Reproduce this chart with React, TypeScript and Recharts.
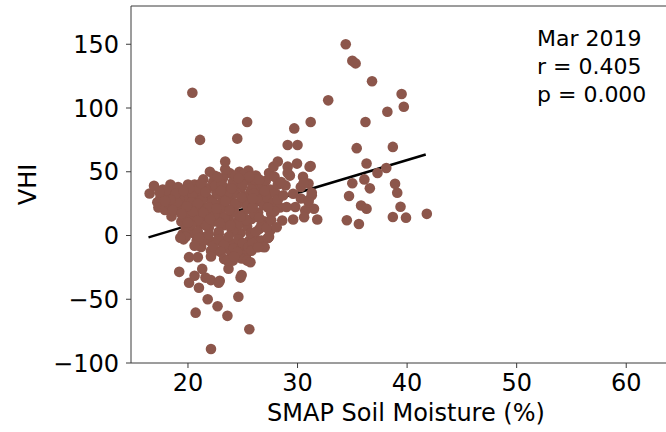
import React from 'react';
import { ScatterChart, Scatter, XAxis, YAxis, ReferenceLine } from 'recharts';

const xTicks = [20, 30, 40, 50, 60];
const yTicks = [-100, -50, 0, 50, 100, 150];

// [soil moisture %, VHI]
const coreCluster: [number, number][] = [
  [16.5, 33], [16.9, 39], [17.2, 26], [17.3, 22], [17.5, 30], [17.7, 36], [17.9, 20], [18.1, 31],
  [18.2, 25], [18.4, 40], [18.5, 15], [18.6, 35], [18.8, 28], [19.0, 20], [19.1, 38], [19.3, 32],
  [19.4, 11], [19.5, 25], [19.5, 1], [19.6, -3], [19.8, 6], [19.9, 17], [20.0, 40], [20.1, 30],
  [20.2, 23], [20.3, 13], [20.4, 36], [20.5, 2], [20.6, 40], [20.7, 27], [20.8, -4], [20.9, 19],
  [21.0, 33], [21.1, 9], [21.2, -9], [21.3, 24], [21.4, 44], [21.5, 15], [21.6, -1], [21.7, 30],
  [21.8, 37], [21.9, 6], [22.0, 50], [22.0, 20], [22.1, -12], [22.2, 28], [22.3, 42], [22.4, 11],
  [22.5, -5], [22.6, 34], [22.7, 24], [22.8, 1], [22.9, 17], [23.0, 43], [23.1, 30], [23.2, -10],
  [23.3, 8], [23.4, 22], [23.5, 37], [23.6, -3], [23.7, 14], [23.8, 49], [23.9, 28], [24.0, -14],
  [24.0, 4], [24.1, 42], [24.2, 19], [24.3, 33], [24.4, -7], [24.5, 11], [24.6, 25], [24.7, 50],
  [24.8, 2], [24.9, 38], [25.0, 16], [25.1, -11], [25.2, 29], [25.3, 44], [25.4, 7], [25.5, 51],
  [25.5, 21], [25.6, -4], [25.7, 34], [25.8, 13], [25.9, 41], [26.0, -1], [26.1, 26], [26.2, 47],
  [26.3, 37], [26.3, -9], [26.4, 18], [26.5, 5], [26.6, 31], [26.7, -4], [26.8, 40], [26.9, 24],
  [27.0, 11], [27.1, 43], [27.2, 30], [27.3, -2], [27.4, 49], [27.5, 36], [27.6, 17], [27.8, 54],
  [27.8, 26], [27.9, 46], [28.0, 33], [28.2, 40], [28.4, 22], [26.8, -9],
];

const coreFill: [number, number][] = [
  [18.0, 35], [18.9, 24], [19.2, 29], [19.7, 14], [20.1, 4], [20.4, 33], [20.7, 18], [21.0, 37],
  [21.3, 28], [21.6, 8], [21.9, -4], [22.2, 26], [22.5, 39], [22.8, 3], [23.0, 21], [23.3, 14],
  [23.6, 33], [23.9, -6], [24.2, 18], [24.5, 41], [24.8, -8], [25.1, 31], [25.4, 23], [25.7, 2],
  [26.0, 17], [26.3, 29], [22.4, -12], [23.8, -11], [25.3, -15], [21.1, -8], [24.6, 9], [22.7, 33],
  [20.9, 12], [26.1, 44], [24.1, 3], [23.2, 45], [21.8, 16], [20.3, 26], [19.0, 26], [18.6, 20],
  [25.8, 36], [26.9, 11], [27.5, 4], [24.9, -18], [23.4, 52], [24.3, 47], [25.1, 48], [23.1, 40],
  [22.4, 47],
  [19.8, -1], [20.3, 8], [20.9, 3], [21.4, -4], [21.9, 1], [22.3, -8], [22.8, -3], [23.3, -7],
  [23.7, -1], [24.2, -10], [24.6, -3], [25.0, -6], [25.5, -9], [25.9, -6], [26.2, 3], [26.7, 8],
  [27.2, 6], [27.6, 12], [27.9, 19], [28.2, 28], [27.3, 22], [26.5, 14], [25.9, 22], [25.3, 12],
  [24.8, 15], [24.3, 25], [23.8, 20], [23.4, 27], [22.9, 10], [22.4, 16], [21.9, 22], [21.4, 18],
  [20.9, 25], [20.4, 19], [19.9, 23], [19.4, 17], [18.9, 33], [18.4, 28], [17.9, 27], [17.4, 34],
  [20.0, 10], [21.0, -2], [22.0, 13], [23.0, 35], [24.0, 37], [25.0, 40], [26.0, 33], [27.0, 35],
  [26.5, 44], [25.6, 46], [24.6, 45], [22.7, 46], [21.2, 41], [20.1, 37], [19.6, 35], [23.9, 8],
  [24.9, 30], [25.9, 29], [21.6, 34], [22.6, 21], [20.6, -8], [23.0, -13], [24.5, -13], [25.8, -12],
];

const lowerTail: [number, number][] = [
  [20.1, -17], [20.9, -17], [22.1, -16.5], [19.2, -28.5], [20.1, -37], [21.0, -41], [20.6, -31.6],
  [21.3, -26.2], [21.6, -33], [22.1, -35], [22.9, -35.5], [22.8, -37], [23.3, -18.4], [24.1, -19.7],
  [23.7, -26], [24.8, -33], [24.9, -31], [25.4, -19.7], [25.7, -21], [24.6, -48], [21.8, -50],
  [22.7, -55.5], [20.7, -60.5], [23.6, -63], [25.6, -73.5], [22.1, -89], [27.3, -1.8], [27.0, -9.2],
  [19.3, -1.8], [23.6, -19.7], [24.2, -16.5], [26.4, -9.2], [27.4, -1],
];

const rightGroup: [number, number][] = [
  [29.1, 54], [29.95, 56.4], [31.1, 54], [29.3, 47], [30.5, 46], [31.0, 40.7], [30.3, 38],
  [28.9, 39.3], [31.3, 31.5], [29.6, 32.8], [30.3, 29], [28.7, 31.5], [31.5, 21], [30.7, 19.7],
  [29.8, 22.3], [31.0, 26.2], [29.0, 22.3], [28.6, 11.8], [29.6, 12.6], [30.6, 14.4], [28.1, 6.5],
  [29.1, 49], [28.5, 42], [30.55, 41], [31.0, 27.6], [31.3, 33.5], [31.2, 54.5],
];

const highOutliers: [number, number][] = [
  [34.4, 150], [35.0, 137], [35.3, 135], [36.8, 121], [39.5, 111], [39.7, 101], [38.2, 97],
  [32.8, 106], [20.4, 112], [36.2, 89], [31.2, 89], [25.4, 89], [29.7, 84], [21.1, 75], [24.5, 76],
  [35.4, 68.5], [38.7, 69.5], [29.1, 71], [30.0, 71], [23.4, 58], [28.2, 58], [36.3, 56.5],
  [38.1, 53], [37.3, 49], [35.0, 41], [36.1, 44], [36.6, 37], [38.9, 40.5], [39.1, 33.5],
  [34.7, 31], [35.8, 23.5], [36.3, 21], [39.4, 22.5], [38.7, 14.5], [39.9, 14], [41.8, 17],
  [34.5, 12], [35.6, 9], [31.8, 12.5],
];

// least squares line end points
const fitX = [16.4, 41.7];
const fitY = [-1.5, 63.5];

const points = [...coreCluster, ...coreFill, ...lowerTail, ...rightGroup, ...highOutliers].map(
  ([x, y]) => ({ x, y })
);
const fitLine = fitX.map((x, i) => ({ x, y: fitY[i] }));

const font = 'DejaVu Sans';
const axisColor = '#3a3a3a';

const fmt = (v: number) => (v < 0 ? `\u2212${Math.abs(v)}` : `${v}`);

const Dot = (props: any) => <circle cx={props.cx} cy={props.cy} r={5.3} fill="#8c564b" />;

const YLabel = (props: any) => {
  const vb = props.viewBox || { x: 0, y: 6, width: 131, height: 357 };
  const cy = vb.y + vb.height / 2;
  return (
    <text x={vb.x + 36} y={cy} transform={`rotate(-90, ${vb.x + 36}, ${cy})`} textAnchor="middle"
      fontSize={24} fontFamily={font} fill="#000">
      VHI
    </text>
  );
};

const XLabel = (props: any) => {
  const vb = props.viewBox || { x: 131, y: 363, width: 550, height: 69 };
  return (
    <text x={vb.x + vb.width / 2} y={vb.y + 58} textAnchor="middle" fontSize={24} fontFamily={font} fill="#000">
      SMAP Soil Moisture (%)
    </text>
  );
};

export default function App() {
  return (
    <div style={{ position: 'absolute', left: 0, top: 0, width: 666, height: 432, overflow: 'hidden', background: '#fff' }}>
      <ScatterChart width={700} height={432} margin={{ top: 6, right: 19, bottom: 0, left: 0 }}>
        <XAxis
          type="number"
          dataKey="x"
          domain={[14.8, 65]}
          ticks={xTicks}
          allowDataOverflow
          height={69}
          tickSize={5}
          tickMargin={6}
          stroke={axisColor}
          tick={{ fill: '#000', fontSize: 24, fontFamily: font }}
          label={XLabel}
        />
        <YAxis
          type="number"
          dataKey="y"
          domain={[-100, 180]}
          ticks={yTicks}
          allowDataOverflow
          width={131}
          tickSize={5}
          tickMargin={7}
          stroke={axisColor}
          tickFormatter={fmt}
          tick={{ fill: '#000', fontSize: 24, fontFamily: font }}
          label={YLabel}
        />
        <ReferenceLine y={180} stroke={axisColor} />
        <ReferenceLine x={65} stroke={axisColor} />
        <Scatter
          data={fitLine}
          line={{ stroke: '#000', strokeWidth: 2.5 }}
          shape={() => <g />}
          isAnimationActive={false}
        />
        <Scatter data={points} shape={Dot} isAnimationActive={false} />
      </ScatterChart>
      <div
        style={{
          position: 'absolute',
          left: 537,
          top: 25,
          fontFamily: font,
          fontSize: 22,
          lineHeight: '28px',
          color: '#000',
          whiteSpace: 'pre',
        }}
      >
        {'Mar 2019\nr = 0.405\np = 0.000'}
      </div>
    </div>
  );
}
